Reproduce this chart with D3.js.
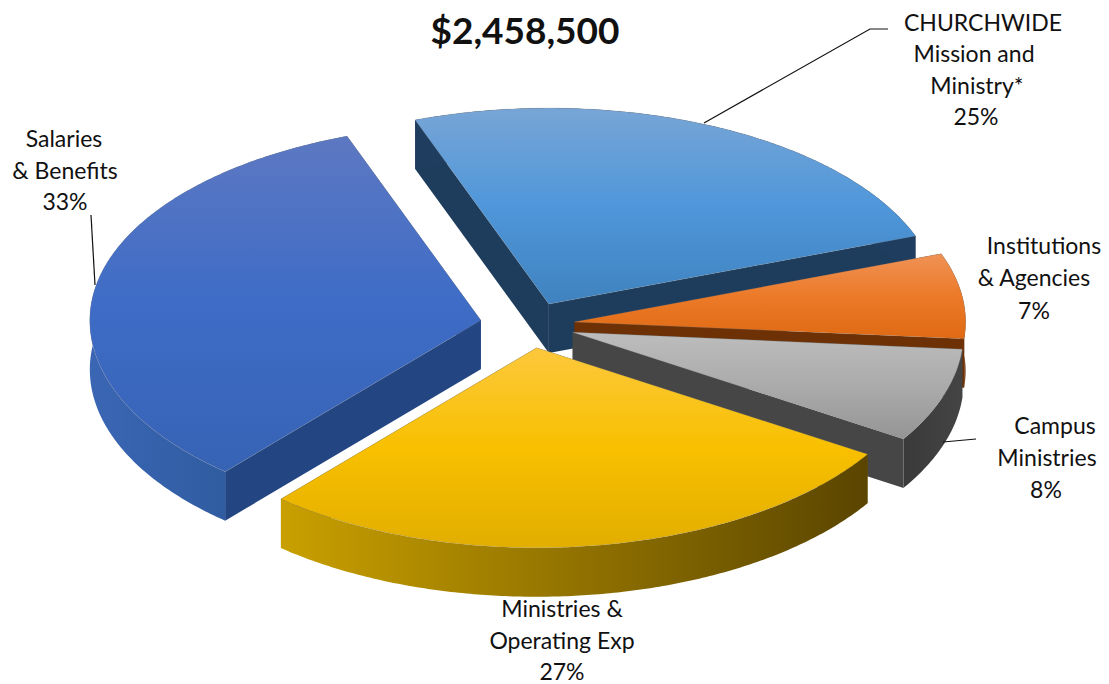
<!DOCTYPE html>
<html>
  <head>
    <meta charset="utf-8">
    <title>$2,458,500</title>
    <script src="https://cdnjs.cloudflare.com/ajax/libs/d3/7.8.5/d3.min.js"></script>
    <style>
      html, body { margin: 0; background: #fff; }
      svg { display: block; }
      text { font-family: Lato, "Open Sans", sans-serif; fill: #111; }
    </style>
  </head>
  <body>
    <div id="chart"></div>
    <script type="text/javascript">
      // Values, clockwise from the top
      var categories = ["CHURCHWIDE Mission and Ministry*", "Institutions & Agencies", "Campus Ministries", "Ministries & Operating Exp", "Salaries & Benefits"];
      var percentLabels = ["25%", "7%", "8%", "27%", "33%"];
      // unrounded shares
      var shares = [24.9, 7, 7.6, 27.4, 33.1];
      var pull = [45, 45, 45, 45, 50];
      var total = "$2,458,500";

      var w = 1109, h = 684;
      var cx = 530, cy = 325, rx = 391, ry = 200, depth = 49;
      var first = -20 * Math.PI / 180;

      var svg = d3.select("#chart").append("svg").attr("width", w).attr("height", h);
      var defs = svg.append("defs");

      // top colours and wall colours per slice
      var tops = [["#78a5d6", "#4f97da", "#3f82bf"], ["#ef9256", "#ec7a28", "#e06a14"], ["#bdbdbd", "#ababab", "#959595"], ["#fcc83c", "#f8c000", "#e2ae00"], ["#5d78c2", "#3e6cc6", "#3763b5"]];
      var outer = [["#1f3d5e", "#1f3d5e"], ["#8a4010", "#6b3008"], ["#3a3a3a", "#444444"], ["#c9a000", "#5a4500"], ["#3a66b4", "#26538f"]];
      var sides = ["#1e3c5c", "#6e3106", "#464646", "#6b5200", "#234582"];

      function gradient(id, stops, vertical) {
        var g = defs.append("linearGradient").attr("id", id)
          .attr("x1", 0).attr("y1", 0).attr("x2", vertical ? 0 : 1).attr("y2", vertical ? 1 : 0);
        stops.forEach(function(c, i) {
          g.append("stop").attr("offset", i / (stops.length - 1)).attr("stop-color", c);
        });
      }
      tops.forEach(function(s, i) { gradient("top" + i, s, true); });
      outer.forEach(function(s, i) { gradient("out" + i, s, false); });

      var pie = d3.pie().sort(null).startAngle(first).endAngle(first + 2 * Math.PI);
      var slices = pie(shares);

      // draw back to front so that nearer slices cover the walls behind them
      var order = [0, 1, 4, 2, 3];
      var line = d3.line();

      order.forEach(function(i) {
        var d = slices[i];
        var mid = (d.startAngle + d.endAngle) / 2;
        var ox = cx + pull[i] * Math.sin(mid);
        var oy = cy - pull[i] * Math.cos(mid) * ry / rx;

        // the far half of the rim is a bit flatter, the original has some perspective
        function rim(a, dz) {
          var c = Math.cos(a);
          return [ox + rx * Math.sin(a), oy - ry * c * (c > 0 ? 0.98 : 1) + dz];
        }
        var angles = d3.range(d.startAngle, d.endAngle, 0.01).concat([d.endAngle]);
        var arcTop = angles.map(function(a) { return rim(a, 0); });
        var arcLow = angles.map(function(a) { return rim(a, depth); }).reverse();
        var g = svg.append("g").attr("class", "slice");

        // the two radial walls
        [d.startAngle, d.endAngle].forEach(function(a) {
          g.append("path")
            .attr("d", line([[ox, oy], rim(a, 0), rim(a, depth), [ox, oy + depth]]) + "Z")
            .attr("fill", sides[i]);
        });
        // outer wall
        g.append("path")
          .attr("d", line(arcTop.concat(arcLow)) + "Z")
          .attr("fill", "url(#out" + i + ")");
        // top face
        g.append("path")
          .attr("d", line([[ox, oy]].concat(arcTop)) + "Z")
          .attr("fill", "url(#top" + i + ")")
          .attr("stroke", "#8c8c8c")
          .attr("stroke-opacity", 0.3)
          .attr("stroke-width", 0.8);
      });

      // leader lines
      var leaders = [
        [[704, 123], [870, 29], [888, 29]],
        [[95, 285], [91, 215]],
        [[943, 442], [976, 439]]
      ];
      leaders.forEach(function(l) {
        svg.append("path").attr("d", line(l)).attr("fill", "none").attr("stroke", "#111").attr("stroke-width", 1.2);
      });

      // title
      svg.append("text").attr("x", 525).attr("y", 44)
        .attr("text-anchor", "middle")
        .style("font-size", "37px").style("font-weight", 700)
        .text(total);

      // labels, each line set by hand like the text boxes of the original
      var labelLines = [
        [["CHURCHWIDE", 983, 31], ["Mission and", 974, 62], ["Ministry*", 977, 94], [percentLabels[0], 976, 125]],
        [["Institutions", 1044, 254], ["& Agencies", 1034, 286], [percentLabels[1], 1034, 319]],
        [["Campus", 1055, 434], ["Ministries", 1047, 466], [percentLabels[2], 1046, 498]],
        [["Ministries &", 562, 617], ["Operating Exp", 562, 649], [percentLabels[3], 562, 680]],
        [["Salaries", 64, 147], ["& Benefits", 65, 179], [percentLabels[4], 65, 210]]
      ];
      labelLines.forEach(function(lines) {
        lines.forEach(function(l) {
          svg.append("text").attr("x", l[1]).attr("y", l[2])
            .attr("text-anchor", "middle")
            .style("font-size", "23px")
            .text(l[0]);
        });
      });
    </script>
  </body>
</html>
